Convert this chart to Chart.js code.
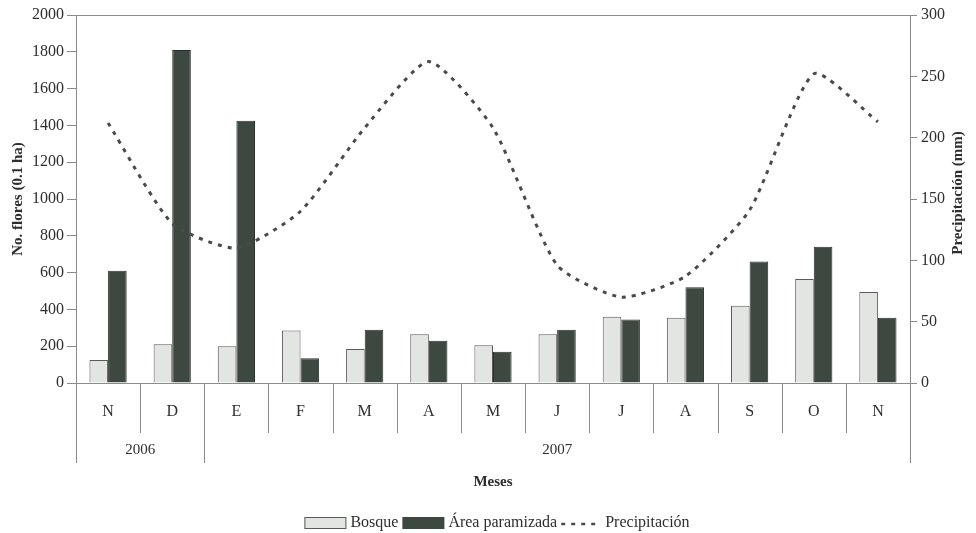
<!DOCTYPE html>
<html>
<head>
<meta charset="utf-8">
<script src="https://cdn.jsdelivr.net/npm/chart.js@4/dist/chart.umd.min.js"></script>
<style>
  html, body { margin: 0; padding: 0; background: #ffffff; }
  #wrap { width: 976px; height: 533px; }
</style>
</head>
<body>
<div id="wrap"><canvas id="c" width="976" height="533"></canvas></div>
<script>
// Meses del periodo de muestreo
const months = ['N', 'D', 'E', 'F', 'M', 'A', 'M', 'J', 'J', 'A', 'S', 'O', 'N'];
// Años: etiqueta e índices del primer y último mes de cada año
const yearLabels = ['2006', '2007'];
const yearFirst = [0, 2];
const yearLast = [1, 12];

// Número de flores por 0.1 ha
const bosque = [125, 210, 200, 285, 185, 265, 205, 265, 360, 355, 420, 565, 495];
const paramizada = [610, 1810, 1425, 135, 290, 230, 170, 290, 345, 520, 660, 740, 355];
// Precipitación mensual (mm)
const precipitacion = [212, 130, 110, 140, 208, 262, 208, 96, 70, 87, 141, 252, 213];

// Ticks de los ejes
const floresTicks = [0, 200, 400, 600, 800, 1000, 1200, 1400, 1600, 1800, 2000];
const precipTicks = [0, 50, 100, 150, 200, 250, 300];

const SERIF = '"Liberation Serif", "Times New Roman", serif';
const TEXT = '#2e2e2e';
const AXIS = '#8a8a8a';
const BOSQUE_FILL = '#e3e5e3';
const BOSQUE_LINE = '#5a5a5a';
const PARAM_FILL = '#3d4840';
const PARAM_LINE = '#2c302d';
const RAIN = '#4a4a4a';

// Ejes de categorías en dos niveles, títulos de ejes y leyenda
const decorations = {
  id: 'decorations',
  afterDraw(chart) {
    const ctx = chart.ctx;
    const x = chart.scales.x;
    const area = chart.chartArea;
    const base = area.bottom;
    ctx.save();

    // marco superior del área de trazado
    ctx.strokeStyle = AXIS;
    ctx.lineWidth = 1;
    ctx.beginPath();
    ctx.moveTo(area.left, area.top + 0.5);
    ctx.lineTo(area.right, area.top + 0.5);
    ctx.stroke();

    // separadores entre meses (largos en los límites de año)
    const yearEdges = new Set([yearFirst[0], ...yearLast.map(v => v + 1)]);
    for (let i = 0; i <= months.length; i++) {
      const px = Math.round(x.getPixelForValue(i - 0.5)) + 0.5;
      const len = yearEdges.has(i) ? 80 : 50;
      ctx.beginPath();
      ctx.moveTo(px, base);
      ctx.lineTo(px, base + len);
      ctx.stroke();
    }

    // etiquetas de meses
    ctx.fillStyle = TEXT;
    ctx.font = '16px ' + SERIF;
    ctx.textAlign = 'center';
    ctx.textBaseline = 'middle';
    months.forEach((m, i) => ctx.fillText(m, x.getPixelForValue(i), base + 29));

    // etiquetas de años
    ctx.font = '15px ' + SERIF;
    yearLabels.forEach((y, k) => {
      const a = x.getPixelForValue(yearFirst[k] - 0.5);
      const b = x.getPixelForValue(yearLast[k] + 0.5);
      ctx.fillText(y, (a + b) / 2, base + 67);
    });

    // título del eje x
    ctx.font = 'bold 15px ' + SERIF;
    ctx.fillText('Meses', (area.left + area.right) / 2, base + 99);

    // títulos de los ejes verticales
    ctx.font = 'bold 15px ' + SERIF;
    ctx.save();
    ctx.translate(18, (area.top + area.bottom) / 2);
    ctx.rotate(-Math.PI / 2);
    ctx.fillText('No. flores (0.1 ha)', 0, 0);
    ctx.restore();
    ctx.save();
    ctx.translate(958, (area.top + area.bottom) / 2 - 6);
    ctx.rotate(-Math.PI / 2);
    ctx.fillText('Precipitación (mm)', 0, 0);
    ctx.restore();

    // leyenda
    ctx.font = '16px ' + SERIF;
    ctx.textAlign = 'left';
    const boxW = 42, boxH = 12, gap = 4, dashW = 40;
    const ds = chart.data.datasets;
    const w1 = ctx.measureText(ds[0].label).width;
    const w2 = ctx.measureText(ds[1].label).width;
    const w3 = ctx.measureText(ds[2].label).width;
    const total = boxW + gap + w1 + gap + boxW + gap + w2 + gap + dashW + gap + w3;
    let lx = 497 - total / 2;
    const ly = 523;

    ctx.fillStyle = BOSQUE_FILL;
    ctx.fillRect(lx, ly - boxH / 2, boxW, boxH);
    ctx.strokeStyle = BOSQUE_LINE;
    ctx.strokeRect(lx + 0.5, ly - boxH / 2 + 0.5, boxW - 1, boxH - 1);
    lx += boxW + gap;
    ctx.fillStyle = TEXT;
    ctx.fillText(ds[0].label, lx, ly);
    lx += w1 + gap;

    ctx.fillStyle = PARAM_FILL;
    ctx.fillRect(lx, ly - boxH / 2, boxW, boxH);
    lx += boxW + gap;
    ctx.fillStyle = TEXT;
    ctx.fillText(ds[1].label, lx, ly);
    lx += w2 + gap;

    ctx.strokeStyle = RAIN;
    ctx.lineWidth = 2.5;
    ctx.setLineDash([4, 6]);
    ctx.beginPath();
    ctx.moveTo(lx, ly + 1);
    ctx.lineTo(lx + dashW, ly + 1);
    ctx.stroke();
    ctx.setLineDash([]);
    lx += dashW + gap;
    ctx.fillStyle = TEXT;
    ctx.fillText(ds[2].label, lx, ly);

    ctx.restore();
  }
};

new Chart(document.getElementById('c'), {
  type: 'bar',
  data: {
    labels: months,
    datasets: [
      {
        label: 'Bosque',
        data: bosque,
        yAxisID: 'y',
        backgroundColor: BOSQUE_FILL,
        borderColor: BOSQUE_LINE,
        borderWidth: 1,
        categoryPercentage: 0.58,
        barPercentage: 1.0,
        order: 2
      },
      {
        label: 'Área paramizada',
        data: paramizada,
        yAxisID: 'y',
        backgroundColor: PARAM_FILL,
        borderColor: PARAM_LINE,
        borderWidth: 1,
        categoryPercentage: 0.58,
        barPercentage: 1.0,
        order: 2
      },
      {
        type: 'line',
        label: 'Precipitación',
        data: precipitacion,
        yAxisID: 'y1',
        borderColor: RAIN,
        borderWidth: 3,
        borderDash: [4, 6],
        borderCapStyle: 'butt',
        pointRadius: 0,
        fill: false,
        tension: 0.2,
        order: 0
      }
    ]
  },
  options: {
    responsive: false,
    animation: false,
    layout: { padding: { top: 15, left: 0, right: 0, bottom: 0 } },
    plugins: {
      legend: { display: false },
      tooltip: { enabled: false }
    },
    scales: {
      x: {
        offset: true,
        grid: { display: false },
        border: { display: true, color: AXIS, width: 1 },
        ticks: { display: false },
        afterFit(scale) { scale.height = 150; }
      },
      y: {
        position: 'left',
        min: 0,
        max: 2000,
        afterBuildTicks(scale) { scale.ticks = floresTicks.map(v => ({ value: v })); },
        ticks: {
          color: TEXT, font: { family: SERIF, size: 16 }, padding: 3,
          callback: v => String(v)
        },
        grid: { drawOnChartArea: false, drawTicks: true, tickLength: 9, color: AXIS },
        border: { display: true, color: AXIS, width: 1 },
        afterFit(scale) { scale.width = 76; }
      },
      y1: {
        position: 'right',
        min: 0,
        max: 300,
        afterBuildTicks(scale) { scale.ticks = precipTicks.map(v => ({ value: v })); },
        ticks: {
          color: TEXT, font: { family: SERIF, size: 16 }, padding: 4,
          callback: v => String(v)
        },
        grid: { drawOnChartArea: false, drawTicks: true, tickLength: 7, color: AXIS },
        border: { display: true, color: AXIS, width: 1 },
        afterFit(scale) { scale.width = 66; }
      }
    }
  },
  plugins: [decorations]
});
</script>
</body>
</html>
